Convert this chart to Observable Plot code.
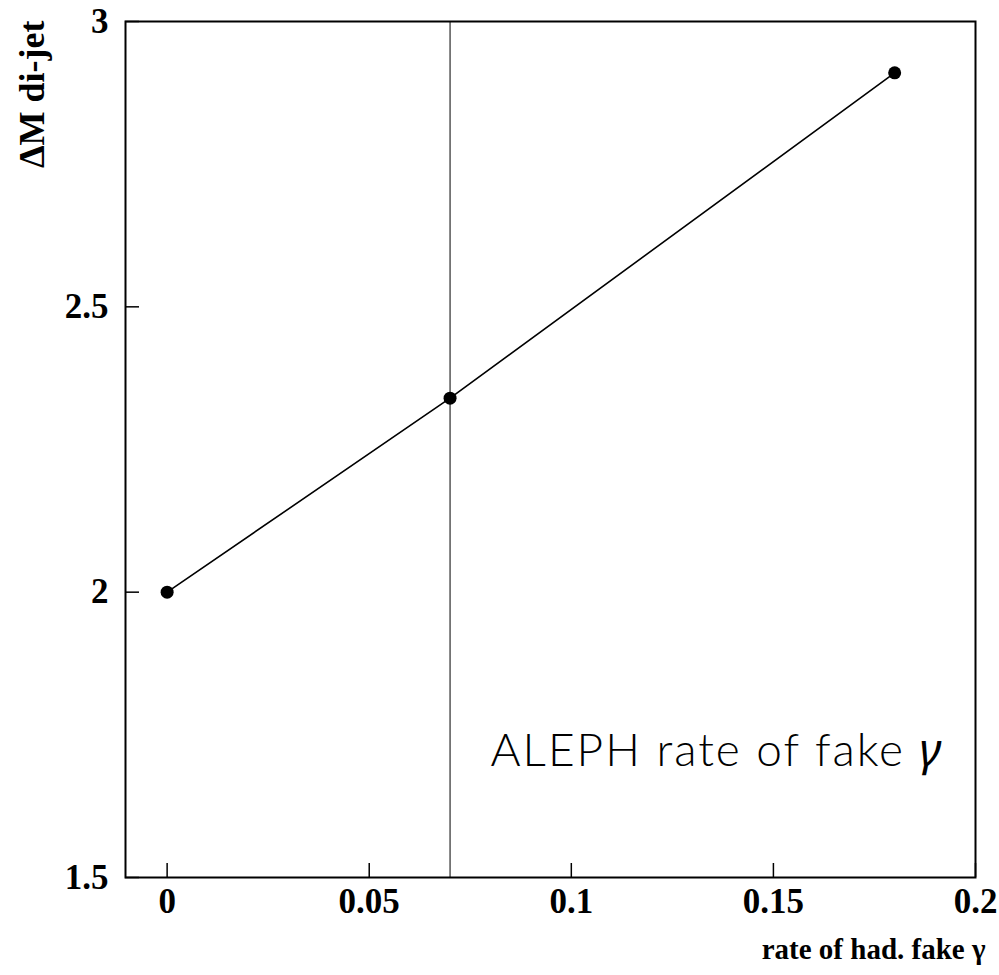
<!DOCTYPE html>
<html><head><meta charset="utf-8">
<script src="https://cdn.jsdelivr.net/npm/d3@7"></script>
<script src="https://cdn.jsdelivr.net/npm/@observablehq/plot@0.6"></script>
<style>body{margin:0;background:#fff} svg{display:block}</style>
</head><body><div id="chart"></div>
<script>
// Data
const rates = [0, 0.07, 0.18];
const deltaM = [2.0, 2.34, 2.91];
const xTicks = [0, 0.05, 0.1, 0.15, 0.2];
const yTicks = [1.5, 2, 2.5, 3];
const alephRate = [0.07];
const xDomain = [-0.0103, 0.2];
const yDomain = [1.5, 3];
const xLabel = "rate of had. fake γ";
const yLabel = "ΔM di-jet";
const note = "ALEPH rate of fake γ";

const points = rates.map((r, i) => ({rate: r, dm: deltaM[i]}));
const fmt = d => String(d);

const chart = Plot.plot({
  width: 999, height: 975,
  marginLeft: 125, marginRight: 24, marginTop: 21, marginBottom: 98,
  style: {fontFamily: "'Liberation Serif', 'Times New Roman', serif", fontWeight: "bold", fontSize: "35px", color: "#000", background: "#fff"},
  x: {domain: xDomain},
  y: {domain: yDomain},
  marks: [
    Plot.axisX(xTicks, {tickSize: 0, tickPadding: 11, tickFormat: fmt, label: null, fontSize: 35}),
    Plot.axisY(yTicks, {tickSize: 0, tickPadding: 17, tickFormat: fmt, label: null, fontSize: 35}),
    Plot.ruleX(xTicks, {x: d => d, y1: yDomain[0], y2: yDomain[0], insetTop: -14, stroke: "#000", strokeWidth: 1.5}),
    Plot.ruleY(yTicks, {y: d => d, x1: xDomain[0], x2: xDomain[0], insetRight: -14, stroke: "#000", strokeWidth: 1.5}),
    Plot.ruleX(alephRate, {x: d => d, stroke: "#000", strokeWidth: 1}),
    Plot.line(points, {x: "rate", y: "dm", stroke: "#000", strokeWidth: 1.6}),
    Plot.dot(points, {x: "rate", y: "dm", r: 6.5, fill: "#000", stroke: "none"}),
    Plot.frame({stroke: "#000", strokeWidth: 2}),
    Plot.text([note], {frameAnchor: "bottom-right", dx: -32, dy: -112, textAnchor: "end", lineAnchor: "bottom",
      fontFamily: "Lato, 'DejaVu Sans', sans-serif", fontWeight: 300, fontSize: 46, fill: "#000"}),
    Plot.text([xLabel], {frameAnchor: "bottom-right", dx: 10, dy: 81, textAnchor: "end", lineAnchor: "bottom", fontSize: 29, fill: "#000"}),
    Plot.text([yLabel], {frameAnchor: "top-left", rotate: -90, dx: -82, dy: -1, textAnchor: "end", lineAnchor: "bottom", fontSize: 36, fill: "#000"})
  ]
});
document.getElementById("chart").appendChild(chart);

const svg = d3.select(chart);
svg.selectAll("text").each(function() {
  const el = d3.select(this);
  if (this.textContent === note) {
    el.text(null).attr("letter-spacing", "2px");
    el.append("tspan").text(note.slice(0, -1));
    el.append("tspan").attr("font-style", "italic").attr("font-weight", "normal")
      .attr("font-family", "'Noto Sans', 'DejaVu Sans', sans-serif").text(note.slice(-1));
  }
});
</script>
</body></html>
